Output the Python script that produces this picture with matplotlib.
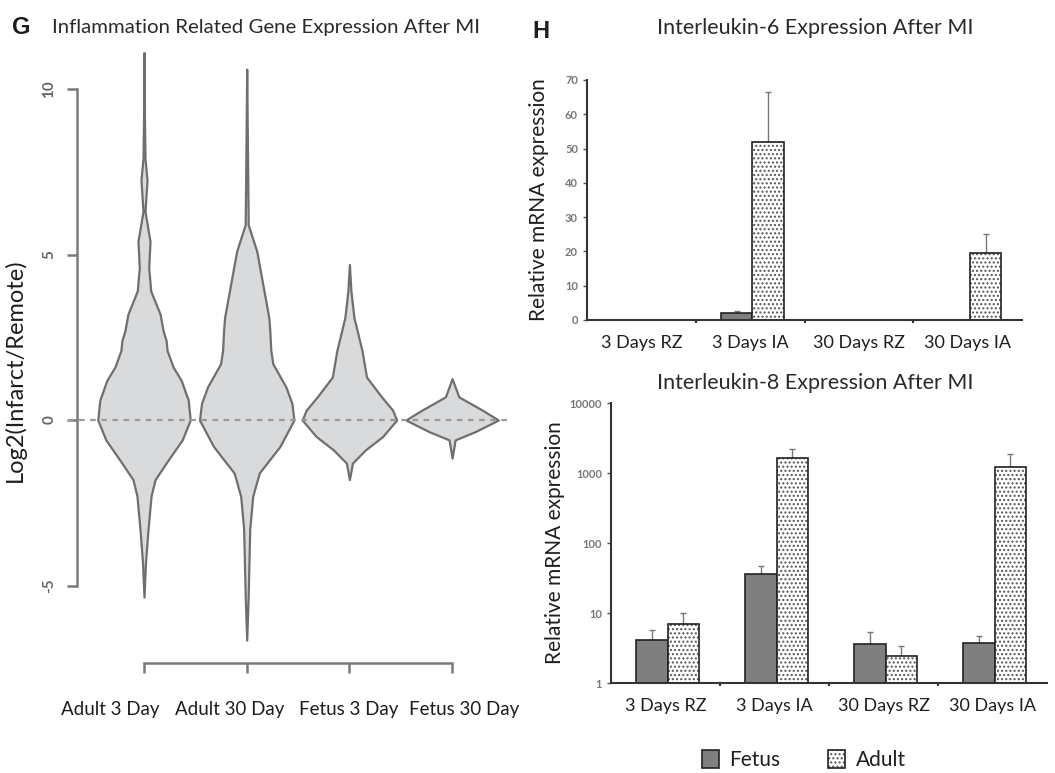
import numpy as np
import matplotlib
matplotlib.use("Agg")
import matplotlib.pyplot as plt
from matplotlib.ticker import FixedLocator, NullFormatter

plt.rcParams['font.family'] = ['Lato', 'DejaVu Sans']
plt.rcParams['hatch.linewidth'] = 1.0

# ---- panel G: violin outlines (y, relative half width)
violin_names = ["Adult 3 Day", "Adult 30 Day", "Fetus 3 Day", "Fetus 30 Day"]
adult3_y = [11.1, 9.0, 7.9, 7.25, 6.3, 5.4, 4.6, 3.9, 3.2, 2.7, 2.4, 2.1, 1.6, 1.2, 0.6, 0.0,
            -0.6, -1.3, -1.8, -2.3, -3.3, -4.3, -5.35]
adult3_w = [0, 0.5, 1, 3, 1, 6, 4.7, 6.7, 16, 19, 22, 23, 29, 37, 44, 46,
            38, 22, 11, 7, 4, 1.5, 0]
adult30_y = [10.6, 8.0, 5.9, 5.1, 4.1, 3.1, 2.7, 2.1, 1.7, 1.0, 0.5, 0.0,
             -0.8, -1.6, -2.3, -3.3, -5.3, -6.65]
adult30_w = [0, 0.8, 1.5, 10, 16, 22, 23, 24, 26, 39, 45, 47,
             33, 12.5, 6, 3, 1.5, 0]
fetus3_y = [4.7, 3.9, 3.1, 2.1, 1.3, 0.7, 0.3, 0.0, -0.5, -0.9, -1.3, -1.8]
fetus3_w = [0, 1.5, 4.5, 12.5, 17, 32, 43, 47, 33, 16, 3, 0]
fetus30_y = [1.25, 0.7, 0.3, 0.0, -0.35, -0.6, -1.15]
fetus30_w = [0, 6.7, 30, 46, 23, 3, 0]
violin_y = [adult3_y, adult30_y, fetus3_y, fetus30_y]
violin_w = [adult3_w, adult30_w, fetus3_w, fetus30_w]

# ---- panel H: bar values
groups = ["3 Days RZ", "3 Days IA", "30 Days RZ", "30 Days IA"]
il6_fetus = [0, 2.0, 0, 0]
il6_fetus_err = [0, 0.5, 0, 0]
il6_adult = [0, 52.0, 0, 19.5]
il6_adult_err = [0, 14.5, 0, 5.5]
il8_fetus = [4.1, 36, 3.6, 3.7]
il8_fetus_err = [1.6, 11, 1.7, 1.0]
il8_adult = [7.0, 1650, 2.4, 1200]
il8_adult_err = [3.0, 550, 1.0, 650]

W, H = 1055, 773
fig = plt.figure(figsize=(W / 100, H / 100), dpi=100)


def px_axes(left, top, right, bottom):
    return fig.add_axes([left / W, 1 - bottom / H, (right - left) / W, (bottom - top) / H])


grey = '#7a7a7a'
txt = '#1e1e1e'

# ---------------- panel G
axg = px_axes(77, 40, 530, 663)
axg.set_xlim(0.3476, 4.7585)
axg.set_ylim(-7.34, 11.48)
axg.axhline(0, xmin=-0.02, xmax=0.96, color='#9a9a9a', lw=1.6, ls=(0, (2.5, 2.5)),
            zorder=3, clip_on=False)
for i, (ys, ws) in enumerate(zip(violin_y, violin_w)):
    ys = np.array(ys)
    hw = np.array(ws) / 46.0 * 0.45
    axg.fill_betweenx(ys, i + 1 - hw, i + 1 + hw, facecolor='#d9dadc',
                      edgecolor='#6f6f6f', lw=1.6, zorder=2)
for s in ['top', 'right']:
    axg.spines[s].set_visible(False)
axg.spines['left'].set_bounds(-5, 10)
axg.spines['bottom'].set_bounds(1, 4)
for s in ['left', 'bottom']:
    axg.spines[s].set_color(grey)
    axg.spines[s].set_linewidth(1.8)
axg.set_yticks([-5, 0, 5, 10])
axg.set_yticklabels(['-5', '0', '5', '10'], rotation=90, va='center',
                    fontsize=11, color='#666666', fontweight='bold')
axg.tick_params(axis='y', length=7, width=1.8, color=grey, pad=8)
axg.xaxis.set_minor_locator(FixedLocator([1, 2, 3, 4]))
axg.xaxis.set_minor_formatter(NullFormatter())
axg.tick_params(axis='x', which='minor', length=7, width=1.8, color=grey)
axg.set_xticks([0.67, 1.83, 2.99, 4.12])
axg.set_xticklabels(violin_names, fontsize=13.5, color=txt)
axg.tick_params(axis='x', which='major', length=0, pad=27)
axg.set_ylabel("Log2(Infarct/Remote)", fontsize=17, color=txt)
axg.yaxis.set_label_coords(-0.113, 0.47)

fig.text(12 / W, 1 - 27 / H, "G", fontsize=17, fontweight='bold',
         family='Liberation Sans', va='center', color=txt)
fig.text(52 / W, 1 - 27 / H, "Inflammation Related Gene Expression After MI",
         fontsize=14.7, va='center', color='#2a2a2a')
fig.text(532 / W, 1 - 31 / H, "H", fontsize=17, fontweight='bold',
         family='Liberation Sans', va='center', color=txt)

x = np.arange(len(groups)) + 0.5
bw = 0.29


def bar_panel(ax, fetus, fetus_err, adult, adult_err):
    fb = ax.bar(x - 0.125, fetus, bw, color='#7f7f7f', edgecolor='#222222', lw=1.2,
                label='Fetus', zorder=2)
    ab = ax.bar(x + 0.165, adult, bw, color='white', edgecolor='#222222', lw=1.2,
                hatch='....', label='Adult', zorder=2)
    for b in ab:
        b._hatch_color = matplotlib.colors.to_rgba('#555555')
    for xs, v, e in [(x - 0.125, fetus, fetus_err), (x + 0.165, adult, adult_err)]:
        v = np.array(v, float)
        e = np.array(e, float)
        m = e > 0
        ax.errorbar(xs[m], v[m], yerr=[np.zeros(m.sum()), e[m]], fmt='none',
                    ecolor='#777777', elinewidth=1.0, capsize=2, capthick=1.0, zorder=1)
    ax.set_xlim(0, 4)
    for s in ['top', 'right']:
        ax.spines[s].set_visible(False)
    for s in ['left', 'bottom']:
        ax.spines[s].set_color('#333333')
        ax.spines[s].set_linewidth(1.5)
    ax.set_xticks(x)
    ax.set_xticklabels(groups, fontsize=13, color=txt)
    ax.tick_params(axis='x', which='major', length=0, pad=11)
    ax.xaxis.set_minor_locator(FixedLocator([1, 2, 3]))
    ax.tick_params(axis='x', which='minor', length=2.5, width=1.5, color='#333333')
    ax.tick_params(axis='y', which='major', length=3, width=1.0, color='#555555',
                   labelsize=8, labelcolor='#777777')
    return fb, ab


ax6 = px_axes(587, 80, 1022, 320)
ax6.set_ylim(0, 70)
ax6.set_yticks(range(0, 71, 10))
bar_panel(ax6, il6_fetus, il6_fetus_err, il6_adult, il6_adult_err)
for t in ax6.get_yticklabels():
    t.set_fontweight('bold')
ax6.set_ylabel("Relative mRNA expression", fontsize=15, color=txt)
ax6.yaxis.set_label_coords(-0.088, 0.5)
fig.text(815 / W, 1 - 28 / H, "Interleukin-6 Expression After MI", fontsize=15.5,
         color='#2a2a2a', ha='center', va='center')

ax8 = px_axes(611, 403, 1047, 683)
ax8.set_yscale('log')
ax8.set_ylim(1, 10000)
ax8.set_yticks([1, 10, 100, 1000, 10000])
ax8.set_yticklabels(['1', '10', '100', '1000', '10000'])
ax8.yaxis.set_minor_locator(FixedLocator([]))
fb, ab = bar_panel(ax8, il8_fetus, il8_fetus_err, il8_adult, il8_adult_err)
for t in ax8.get_yticklabels():
    t.set_fontweight('bold')
ax8.set_ylabel("Relative mRNA expression", fontsize=15, color=txt)
ax8.yaxis.set_label_coords(-0.106, 0.5)
fig.text(815 / W, 1 - 383 / H, "Interleukin-8 Expression After MI", fontsize=15.5,
         color='#2a2a2a', ha='center', va='center')

fig.legend(handles=[fb, ab], labels=['Fetus', 'Adult'], loc='center',
           bbox_to_anchor=(804 / W, 1 - 760 / H), ncol=2, frameon=False,
           fontsize=15, handlelength=0.8, handleheight=1.0, columnspacing=2.3,
           handletextpad=0.5, labelcolor=txt)

fig.savefig('out.png', dpi=100)
